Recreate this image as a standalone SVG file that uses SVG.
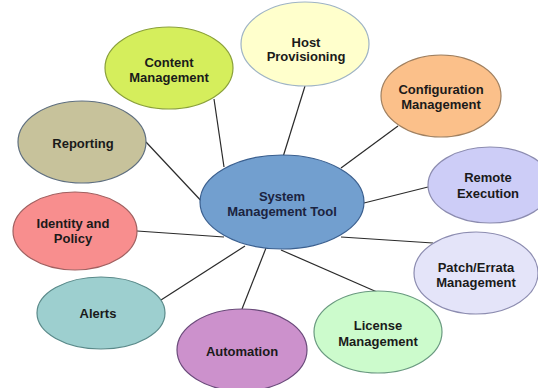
<svg xmlns="http://www.w3.org/2000/svg" width="538" height="388" viewBox="0 0 538 388">
<style>
text{font-family:"Liberation Sans",Arial,sans-serif;font-weight:bold;font-size:13px;fill:#1a1a1a;text-anchor:middle}
.c line{stroke:#2a2a2a;stroke-width:1.2}
ellipse{stroke-width:1.2}
</style>
<rect width="538" height="388" fill="#fff"/>
<g class="c" id="connectors">
<line x1="214" y1="99" x2="224" y2="167"/>
<line x1="146" y1="142" x2="205" y2="205"/>
<line x1="305" y1="86" x2="283" y2="157"/>
<line x1="398" y1="126" x2="341" y2="168"/>
<line x1="428" y1="187" x2="364" y2="203"/>
<line x1="433" y1="243" x2="341" y2="237"/>
<line x1="377" y1="292" x2="281" y2="250"/>
<line x1="242" y1="309" x2="266" y2="248"/>
<line x1="161" y1="300" x2="245" y2="246"/>
<line x1="137" y1="231" x2="224" y2="237"/>
</g>
<g id="content"><ellipse cx="169" cy="68" rx="64" ry="41" fill="#d5ee5c" stroke="#8aa03a"/><text x="169" y="67">Content</text><text x="169" y="82">Management</text></g>
<g id="host"><ellipse cx="305" cy="44" rx="64" ry="42" fill="#ffffcc" stroke="#9fb4c4"/><text x="306" y="47">Host</text><text x="306" y="61">Provisioning</text></g>
<g id="config"><ellipse cx="441" cy="96" rx="60" ry="41" fill="#fbc08a" stroke="#a08060"/><text x="441" y="94">Configuration</text><text x="441" y="109">Management</text></g>
<g id="reporting"><ellipse cx="82" cy="142" rx="64" ry="41" fill="#c7c29b" stroke="#5f6f7f"/><text x="83" y="148">Reporting</text></g>
<g id="remote"><ellipse cx="490" cy="185" rx="62" ry="38" fill="#cdcdf7" stroke="#8c8cb0"/><text x="488" y="182">Remote</text><text x="488" y="198">Execution</text></g>
<g id="identity"><ellipse cx="75" cy="231" rx="62" ry="39" fill="#f88e8e" stroke="#a06060"/><text x="73" y="228">Identity and</text><text x="73" y="243">Policy</text></g>
<g id="patch"><ellipse cx="476" cy="273" rx="62" ry="41" fill="#e4e4f9" stroke="#8c8cb0"/><text x="476" y="272">Patch/Errata</text><text x="476" y="287">Management</text></g>
<g id="alerts"><ellipse cx="101" cy="313" rx="64" ry="36" fill="#9dcfcf" stroke="#5a8a8a"/><text x="98" y="318">Alerts</text></g>
<g id="license"><ellipse cx="378" cy="332" rx="64" ry="41" fill="#ccfbcc" stroke="#6a9a80"/><text x="378" y="330">License</text><text x="378" y="346">Management</text></g>
<g id="automation"><ellipse cx="242" cy="350" rx="65" ry="41" fill="#cc91cc" stroke="#6a4a7a"/><text x="242" y="356">Automation</text></g>
<g id="central"><ellipse cx="282" cy="202" rx="82" ry="47" fill="#729fcf" stroke="#3a5f8f"/><text x="282" y="201" style="fill:#1b2340">System</text><text x="282" y="216" style="fill:#1b2340">Management Tool</text></g>
</svg>
